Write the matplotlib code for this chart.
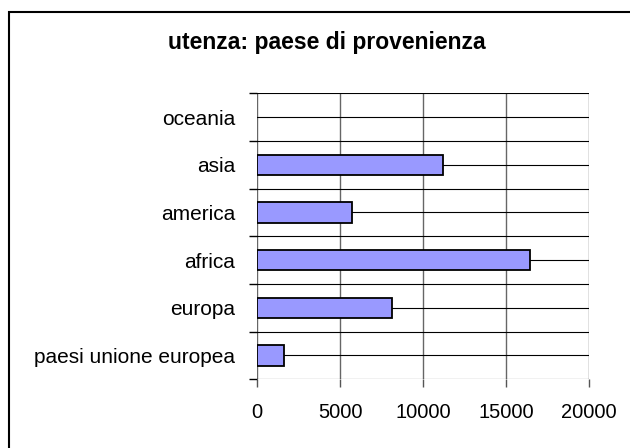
import matplotlib
matplotlib.use("Agg")
import matplotlib.pyplot as plt
from matplotlib.patches import Rectangle
import numpy as np

plt.rcParams['font.family'] = ['Liberation Sans', 'DejaVu Sans']

# Categories listed bottom to top
categories = ["paesi unione europea", "europa", "africa", "america", "asia", "oceania"]
values = [1580, 8100, 16400, 5700, 11200, 0]
x_ticks = [0, 5000, 10000, 15000, 20000]
title = "utenza: paese di provenienza"

W, H = 630, 448
fig = plt.figure(figsize=(W / 100, H / 100), dpi=100)

# Chart-area border (runs off the right and bottom edges)
fig.patches.append(Rectangle((9 / W, -0.1), 1.2, 1.1 - 12.5 / H,
                             transform=fig.transFigure, fill=False,
                             edgecolor="black", linewidth=1.5, zorder=0))

ax = fig.add_axes([257.3 / W, 1 - 379.3 / H, (589.3 - 257.3) / W, (379.3 - 93.3) / H])

y = np.arange(len(categories))
edges = ["black" if v > 0 else "none" for v in values]
ax.barh(y, values, height=0.43, color="#9999FF", edgecolor=edges,
        linewidth=1.3, zorder=3)

ax.set_xlim(0, 20000)
ax.set_ylim(-0.5, len(categories) - 0.5)

# Category labels at centres, tick marks at boundaries
ax.set_yticks(y)
ax.set_yticklabels(categories)
ax.set_yticks(np.arange(-0.5, len(categories)), minor=True)
ax.tick_params(axis="y", which="major", length=0, pad=16, labelsize=15)
ax.tick_params(axis="y", which="minor", length=6, width=1, color="black", direction="out")

ax.set_xticks(x_ticks)
ax.set_xticklabels([str(v) for v in x_ticks])
ax.tick_params(axis="x", which="major", length=6, width=1, color="#555555",
               direction="out", pad=11, labelsize=14.5)

# Gridlines: grey verticals, black horizontals at centres and boundaries
for xv in x_ticks:
    ax.axvline(xv, color="#666666", linewidth=1.0, zorder=1)
for yv in np.arange(-0.5, len(categories), 0.5):
    ax.axhline(yv, color="black", linewidth=0.8, zorder=1)

for s in ax.spines.values():
    s.set_visible(False)

fig.text(327 / W, 1 - 42 / H, title, ha="center", va="center",
         fontsize=16.5, fontweight="bold")

fig.savefig("out.png", dpi=100)
